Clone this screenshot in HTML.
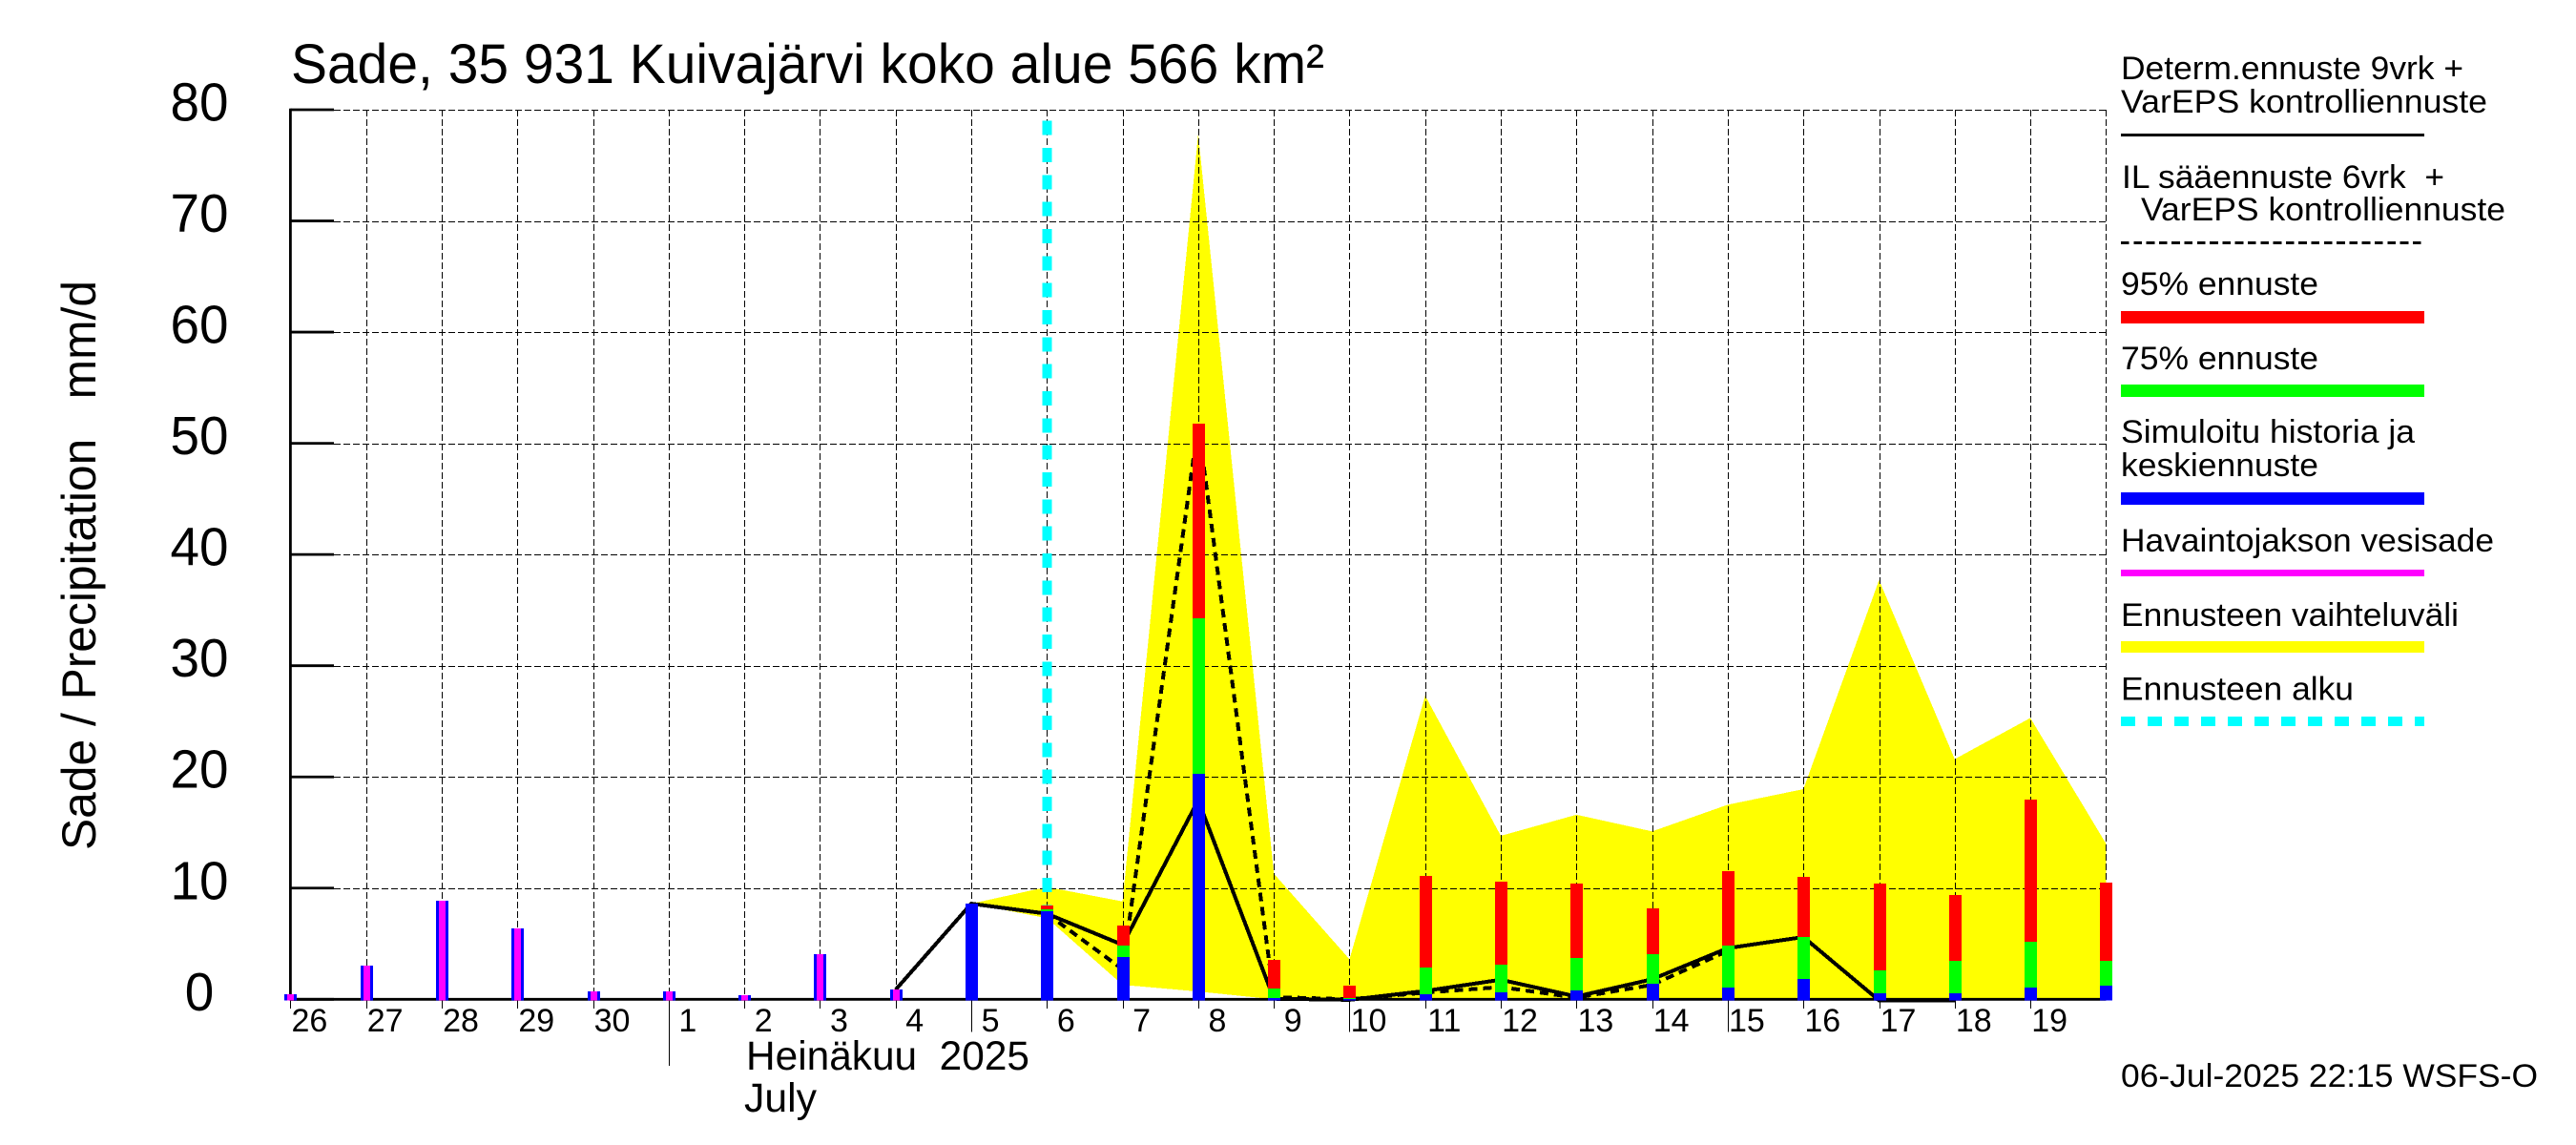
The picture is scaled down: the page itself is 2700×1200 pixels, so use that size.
<!DOCTYPE html>
<html lang="fi">
<head>
<meta charset="utf-8">
<title>Sade, 35 931 Kuivajärvi koko alue 566 km²</title>
<style>
html,body{margin:0;padding:0;background:#fff;width:2700px;height:1200px;overflow:hidden}
svg{display:block}
text{font-family:"Liberation Sans",sans-serif;fill:#000;white-space:pre}
.lg{font-size:34px}
</style>
</head>
<body>
<svg id="chart" xmlns="http://www.w3.org/2000/svg" width="2700" height="1200" viewBox="0 0 2700 1200">
  <rect x="0" y="0" width="2700" height="1200" fill="#fff"/>
  <g id="range-layer"></g>
  <g id="grid-layer"></g>
  <g id="start-layer"></g>
  <g id="axis-layer"></g>
  <g id="line-layer"></g>
  <g id="bar-layer"></g>
  <g id="tick-label-layer"></g>

  <text x="305" y="87" font-size="58" textLength="1083" lengthAdjust="spacingAndGlyphs">Sade, 35 931 Kuivajärvi koko alue 566 km²</text>
  <text transform="translate(100,891) rotate(-90)" font-size="50" textLength="597" lengthAdjust="spacingAndGlyphs">Sade / Precipitation   mm/d</text>
  <text x="782" y="1121" font-size="43" textLength="297" lengthAdjust="spacingAndGlyphs">Heinäkuu  2025</text>
  <text x="780" y="1165" font-size="43" textLength="76" lengthAdjust="spacingAndGlyphs">July</text>

  <g>
    <text class="lg" x="2223" y="83" textLength="359" lengthAdjust="spacingAndGlyphs">Determ.ennuste 9vrk +</text>
    <text class="lg" x="2223" y="118" textLength="384" lengthAdjust="spacingAndGlyphs">VarEPS kontrolliennuste</text>
    <rect x="2223" y="140" width="318" height="3" fill="#000"/>
    <text class="lg" x="2224" y="197" textLength="338" lengthAdjust="spacingAndGlyphs">IL sääennuste 6vrk  +</text>
    <text class="lg" x="2244" y="231" textLength="382" lengthAdjust="spacingAndGlyphs">VarEPS kontrolliennuste</text>
    <line x1="2223" y1="254.5" x2="2541" y2="254.5" stroke="#000" stroke-width="3" stroke-dasharray="8.7 4.6" shape-rendering="crispEdges"/>
    <text class="lg" x="2223" y="309" textLength="207" lengthAdjust="spacingAndGlyphs">95% ennuste</text>
    <rect x="2223" y="326" width="318" height="13" fill="#f00"/>
    <text class="lg" x="2223" y="387" textLength="207" lengthAdjust="spacingAndGlyphs">75% ennuste</text>
    <rect x="2223" y="403" width="318" height="13" fill="#0f0"/>
    <text class="lg" x="2223" y="464" textLength="308" lengthAdjust="spacingAndGlyphs">Simuloitu historia ja</text>
    <text class="lg" x="2223" y="499" textLength="207" lengthAdjust="spacingAndGlyphs">keskiennuste</text>
    <rect x="2223" y="516" width="318" height="13" fill="#00f"/>
    <text class="lg" x="2223" y="578" textLength="391" lengthAdjust="spacingAndGlyphs">Havaintojakson vesisade</text>
    <rect x="2223" y="597" width="318" height="7" fill="#f0f"/>
    <text class="lg" x="2223" y="656" textLength="354" lengthAdjust="spacingAndGlyphs">Ennusteen vaihteluväli</text>
    <rect x="2223" y="672" width="318" height="12" fill="#ff0"/>
    <text class="lg" x="2223" y="733.5" textLength="244" lengthAdjust="spacingAndGlyphs">Ennusteen alku</text>
    <line x1="2223" y1="756" x2="2541" y2="756" stroke="#0ff" stroke-width="10" stroke-dasharray="15 13" shape-rendering="crispEdges"/>
  </g>
  <text class="lg" x="2223" y="1139" textLength="437" lengthAdjust="spacingAndGlyphs">06-Jul-2025 22:15 WSFS-O</text>
</svg>

<script>
// Chart data (mm/d), one slot per day: 26 Jun ... 20 Jul
const dayLabels = ["26","27","28","29","30","1","2","3","4","5","6","7","8","9","10","11","12","13","14","15","16","17","18","19"];
const yTickLabels = [0,10,20,30,40,50,60,70,80];
const longTickDays = ["5","10","15"];
const monthTickDays = ["1"];
const observedRain = [0.43,3.03,8.9,6.4,0.7,0.7,0.35,4.06,0.86,null,null,null,null,null,null,null,null,null,null,null,null,null,null,null,null];
const simulatedMean = [0.43,3.03,8.9,6.4,0.7,0.7,0.35,4.06,0.86,8.6,7.9,3.8,20.3,0.15,0.05,0.45,0.65,0.78,1.4,1.09,1.86,0.57,0.57,1.09,1.26];
const forecast75 = [null,null,null,null,null,null,null,null,null,null,8.1,4.8,34.3,1.0,0.12,2.85,3.1,3.7,4.06,4.86,5.6,2.6,3.5,5.2,3.5];
const forecast95 = [null,null,null,null,null,null,null,null,null,null,8.4,6.6,51.8,3.55,1.25,11.07,10.6,10.4,8.2,11.56,11.0,10.4,9.4,17.98,10.5];
const rangeUpper = [null,null,null,null,null,null,null,null,null,8.6,10.1,8.8,77.8,11.3,3.6,27.3,14.7,16.6,15.1,17.5,18.9,37.7,21.6,25.3,14.0];
const rangeLower = [null,null,null,null,null,null,null,null,null,8.6,7.3,1.3,0.7,0,0,0,0,0,0,0,0,0,0,0,0];
const determForecast = [null,null,null,null,null,null,null,null,0.86,8.6,7.7,4.9,17.9,0.05,-0.05,0.75,1.76,0.25,1.8,4.6,5.6,-0.1,-0.1,null,null];
const ilForecast = [null,null,null,null,null,null,null,null,null,null,7.7,2.7,51.7,0.2,0,0.6,1.1,0.15,1.3,4.35,null,null,null,null,null];
const forecastStartDay = 10;
const dayCount = 25;
const yMax = 80;

const NS = "http://www.w3.org/2000/svg";
const plotLeft = 304.4, plotRight = 2207.4, plotTop = 115, plotBottom = 1047.3;
function xScale(i){ return plotLeft + (plotRight - plotLeft) * i / (dayCount - 1); }
function yScale(v){ return plotBottom - (plotBottom - plotTop) * v / yMax; }
function mk(tag, parent, attrs){
  const el = document.createElementNS(NS, tag);
  for (const k in attrs) el.setAttribute(k, attrs[k]);
  parent.appendChild(el);
  return el;
}
const rangeLayer = document.getElementById("range-layer");
const gridLayer = document.getElementById("grid-layer");
const startLayer = document.getElementById("start-layer");
const axisLayer = document.getElementById("axis-layer");
const lineLayer = document.getElementById("line-layer");
const barLayer = document.getElementById("bar-layer");
const tickLabelLayer = document.getElementById("tick-label-layer");

// Forecast range band
(function(){
  const up = [], low = [];
  for (let i = 0; i < dayCount; i++) {
    if (rangeUpper[i] !== null) up.push(xScale(i) + "," + yScale(rangeUpper[i]));
    if (rangeLower[i] !== null) low.unshift(xScale(i) + "," + yScale(rangeLower[i]));
  }
  const band = mk("polygon", rangeLayer, {points: up.concat(low).join(" "), fill: "#ffff00", "shape-rendering": "crispEdges"});
  
  
})();

// Grid
yTickLabels.forEach(function(v){
  if (v === 0) return;
  const yy = Math.round(yScale(v)) + 0.5;
  const g = mk("line", gridLayer, {x1: 350, x2: plotRight, y1: yy, y2: yy, stroke: "#000", "stroke-width": 1, "stroke-dasharray": "7 3", "shape-rendering": "crispEdges"});
  
  
});
for (let i = 1; i < dayCount; i++) {
  const xx = Math.round(xScale(i)) + 0.5;
  const g = mk("line", gridLayer, {x1: xx, x2: xx, y1: plotTop, y2: plotBottom, stroke: "#000", "stroke-width": 1, "stroke-dasharray": "7 3", "shape-rendering": "crispEdges"});
  
  
}

// Forecast start marker
const startLine = mk("line", startLayer, {x1: xScale(forecastStartDay), x2: xScale(forecastStartDay), y1: 126.7, y2: plotBottom, stroke: "#00ffff", "stroke-width": 10, "stroke-dasharray": "15 13.33", "shape-rendering": "crispEdges"});



// Axes
const yAxis = mk("line", axisLayer, {x1: plotLeft, x2: plotLeft, y1: plotTop - 1.3, y2: plotBottom + 1.3, stroke: "#000", "stroke-width": 2.8});


const xAxis = mk("line", axisLayer, {x1: plotLeft, x2: plotRight, y1: plotBottom, y2: plotBottom, stroke: "#000", "stroke-width": 2.8});



yTickLabels.forEach(function(v){
  const t = mk("line", axisLayer, {x1: plotLeft, x2: 350, y1: yScale(v), y2: yScale(v), stroke: "#000", "stroke-width": 2.8});
  
  
  const l = mk("text", tickLabelLayer, {x: 209, y: yScale(v) + 11.5, "font-size": 57, "text-anchor": "middle", textLength: String(v).length * 30.5, lengthAdjust: "spacingAndGlyphs"});
  l.textContent = String(v);
  
  
});

dayLabels.forEach(function(lab, i){
  let bottom = 1057;
  if (longTickDays.indexOf(lab) >= 0) bottom = 1081.7;
  if (monthTickDays.indexOf(lab) >= 0) bottom = 1117;
  const xx = Math.round(xScale(i)) + 0.5;
  const t = mk("line", axisLayer, {x1: xx, x2: xx, y1: plotBottom, y2: bottom, stroke: "#000", "stroke-width": 1, "shape-rendering": "crispEdges"});
  
  
  const l = mk("text", tickLabelLayer, {x: xScale(i) + 20, y: 1081, "font-size": 34, "text-anchor": "middle"});
  l.textContent = lab;
  
  
});

// Forecast lines
function linePoints(arr){
  const pts = [];
  arr.forEach(function(v, i){ if (v !== null) pts.push(xScale(i) + "," + yScale(v)); });
  return pts.join(" ");
}
const ilLine = mk("polyline", lineLayer, {points: linePoints(ilForecast), fill: "none", stroke: "#000", "stroke-width": 4, "stroke-dasharray": "9 6", "stroke-linejoin": "round", "shape-rendering": "crispEdges"});


const determLine = mk("polyline", lineLayer, {points: linePoints(determForecast), fill: "none", stroke: "#000", "stroke-width": 4, "stroke-linejoin": "round", "shape-rendering": "crispEdges"});



// Bars
const barBottom = 1048.5;
function barRect(i, v, halfWidth, color){
  const top = Math.round(yScale(v));
  return mk("rect", barLayer, {x: Math.round(xScale(i)) - halfWidth, y: top, width: halfWidth * 2 + 1, height: Math.max(1, barBottom - top), fill: color, "shape-rendering": "crispEdges"});
}
for (let i = 0; i < dayCount; i++) {
  if (forecast95[i] !== null) {
    const r = barRect(i, forecast95[i], 6, "#ff0000");
    
    
  }
  if (forecast75[i] !== null) {
    const g = barRect(i, forecast75[i], 6, "#00ff00");
    
    
  }
  if (simulatedMean[i] !== null) {
    const b = barRect(i, simulatedMean[i], 6, "#0000ff");
    
    
  }
  if (observedRain[i] !== null) {
    const m = barRect(i, observedRain[i], 3, "#ff00ff");
    
    
  }
}
</script>
</body>
</html>
